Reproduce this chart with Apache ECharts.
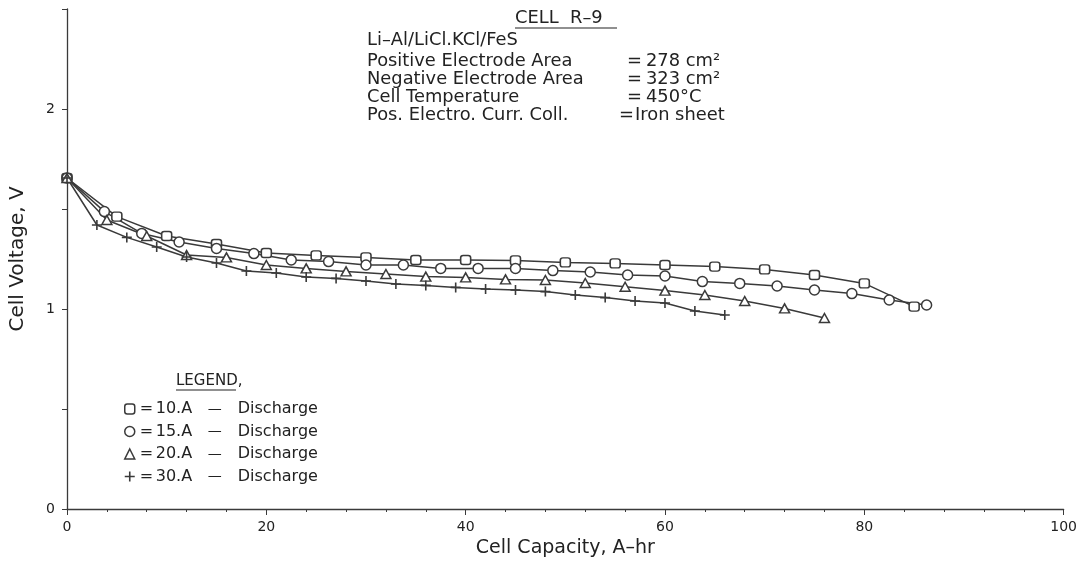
<!DOCTYPE html>
<html>
<head>
<meta charset="utf-8">
<script src="https://cdn.jsdelivr.net/npm/echarts@6/dist/echarts.min.js"></script>
<style>
html,body{margin:0;padding:0;background:#fff;}
#chart{width:1080px;height:566px;}
</style>
</head>
<body>
<div id="chart"></div>
<script>
// ---- data ----
const cap10 = [0, 5, 10, 15, 20, 25, 30, 35, 40, 45, 50, 55, 60, 65, 70, 75, 80, 85];
const volt10 = [1.655, 1.462, 1.365, 1.325, 1.28, 1.268, 1.258, 1.245, 1.245, 1.243, 1.233, 1.228, 1.22, 1.212, 1.198, 1.17, 1.128, 1.012];

const cap15 = [0, 3.75, 7.5, 11.25, 15, 18.75, 22.5, 26.25, 30, 33.75, 37.5, 41.25, 45, 48.75, 52.5, 56.25, 60, 63.75, 67.5, 71.25, 75, 78.75, 82.5, 86.25];
const volt15 = [1.655, 1.487, 1.378, 1.335, 1.303, 1.277, 1.245, 1.237, 1.22, 1.22, 1.203, 1.203, 1.203, 1.192, 1.185, 1.17, 1.165, 1.137, 1.128, 1.115, 1.095, 1.077, 1.045, 1.02];

const cap20 = [0, 4, 8, 12, 16, 20, 24, 28, 32, 36, 40, 44, 48, 52, 56, 60, 64, 68, 72, 76];
const volt20 = [1.655, 1.445, 1.365, 1.27, 1.258, 1.22, 1.203, 1.188, 1.175, 1.162, 1.158, 1.148, 1.145, 1.13, 1.111, 1.092, 1.07, 1.04, 1.003, 0.955];

const cap30 = [0, 3, 6, 9, 12, 15, 18, 21, 24, 27, 30, 33, 36, 39, 42, 45, 48, 51, 54, 57, 60, 63, 66];
const volt30 = [1.655, 1.42, 1.358, 1.31, 1.26, 1.23, 1.19, 1.18, 1.16, 1.153, 1.14, 1.125, 1.118, 1.108, 1.10, 1.095, 1.087, 1.07, 1.057, 1.04, 1.03, 0.99, 0.97];

const seriesNames = ['10.A', '15.A', '20.A', '30.A'];
const xTicks = [0, 20, 40, 60, 80, 100];
const yTickLabels = ['0', '1', '2'];

const titleLines = [
  ['Li\u2013Al/LiCl.KCl/FeS', '', ''],
  ['Positive Electrode Area', '=', '278 cm\u00B2'],
  ['Negative Electrode Area', '=', '323 cm\u00B2'],
  ['Cell Temperature', '=', '450\u00B0C'],
  ['Pos. Electro. Curr. Coll.', '=', 'Iron sheet']
];

// ---- chart ----
const FONT = 'DejaVu Sans';
const INK = '#222';
const LINE = '#3a3a3a';
const plusPath = 'path://M4.2,0H5.8V4.2H10V5.8H5.8V10H4.2V5.8H0V4.2H4.2Z';

function pairs(xs, ys){ return xs.map((x,i)=>[x, ys[i]]); }

const hollow = {color:'#fff', borderColor: LINE, borderWidth: 1.5};
const seriesDefs = [
  {name: seriesNames[0], data: pairs(cap10, volt10), symbol: 'roundRect', symbolSize: [10,9], itemStyle: hollow},
  {name: seriesNames[1], data: pairs(cap15, volt15), symbol: 'circle', symbolSize: [10,10], itemStyle: hollow},
  {name: seriesNames[2], data: pairs(cap20, volt20), symbol: 'triangle', symbolSize: [10,9], itemStyle: hollow},
  {name: seriesNames[3], data: pairs(cap30, volt30), symbol: plusPath, symbolSize: [10,10], itemStyle: {color: LINE, borderWidth: 0}}
];

const series = seriesDefs.map(s => ({
  type: 'line',
  name: s.name,
  data: s.data,
  symbol: s.symbol,
  symbolSize: s.symbolSize,
  showAllSymbol: true,
  smooth: false,
  itemStyle: s.itemStyle,
  lineStyle: {color: LINE, width: 1.5},
  emphasis: {disabled: true},
  z: 3
}));

const TF = '17px "' + FONT + '"';
const SX = 1.05;
const graphic = [];
// title block
graphic.push({type:'text', x: 515, y: 19, scaleX: 1.05, style:{text:'CELL  R\u20139', font: TF, fill: INK, textVerticalAlign:'middle'}});
graphic.push({type:'line', shape:{x1:515, y1:28, x2:617, y2:28}, style:{stroke: INK, lineWidth:1.2}});
const rowY = [41, 62, 80, 98, 116];
titleLines.forEach((r, i) => {
  graphic.push({type:'text', x: 367, y: rowY[i], scaleX: SX, style:{text: r[0], font: TF, fill: INK, textVerticalAlign:'middle'}});
  if (r[1]) graphic.push({type:'text', x: i===4 ? 619 : 627, y: rowY[i], scaleX: SX, style:{text: r[1], font: TF, fill: INK, textVerticalAlign:'middle'}});
  if (r[2]) graphic.push({type:'text', x: i===4 ? 635 : 646, y: rowY[i], scaleX: SX, style:{text: r[2], font: TF, fill: INK, textVerticalAlign:'middle'}});
});
// legend heading
graphic.push({type:'text', x: 176, y: 381, style:{text:'LEGEND,', font:'15px "'+FONT+'"', fill: INK, textVerticalAlign:'middle'}});
graphic.push({type:'line', shape:{x1:176, y1:390, x2:236, y2:390}, style:{stroke: INK, lineWidth:1.2}});

const option = {
  animation: false,
  backgroundColor: '#fff',
  textStyle: {fontFamily: FONT, color: INK},
  grid: {left: 67, right: 16, top: 9, bottom: 57, containLabel: false},
  legend: {
    orient: 'vertical',
    left: 119,
    top: 396,
    itemWidth: 10,
    itemHeight: 10,
    itemGap: 6.5,
    selectedMode: false,
    data: seriesDefs.map(s => ({name: s.name, icon: s.symbol, itemStyle: s.itemStyle})),
    formatter: function(name){ return '{eq|=}{cur|' + name + '}{dash|\u2014}{lab|Discharge}'; },
    textStyle: {
      fontFamily: FONT, fontSize: 16, color: INK,
      rich: {
        eq: {width: 16, fontSize: 16, lineHeight: 18, fontFamily: FONT, color: INK},
        cur: {width: 52, fontSize: 16, lineHeight: 18, fontFamily: FONT, color: INK},
        dash: {width: 30, fontSize: 14, lineHeight: 18, fontFamily: FONT, color: INK},
        lab: {fontSize: 16, lineHeight: 18, fontFamily: FONT, color: INK}
      }
    }
  },
  xAxis: {
    type: 'value', min: 0, max: 100, interval: 20,
    name: 'Cell Capacity, A\u2013hr', nameLocation: 'middle', nameGap: 29,
    nameTextStyle: {fontSize: 19, fontFamily: FONT, color: INK},
    axisLine: {lineStyle: {color: LINE, width: 1.3}},
    axisTick: {show: true, length: 6, lineStyle: {color: LINE}},
    minorTick: {show: true, splitNumber: 5, length: 3, lineStyle: {color: LINE}},
    axisLabel: {fontSize: 14, color: INK, margin: 11, formatter: v => xTicks.includes(v) ? String(v) : ''},
    splitLine: {show: false}
  },
  yAxis: {
    type: 'value', min: 0, max: 2.5, interval: 0.5,
    name: 'Cell Voltage, V', nameLocation: 'middle', nameGap: 39, nameRotate: 90,
    nameTextStyle: {fontSize: 20, fontFamily: FONT, color: INK},
    axisLine: {show: true, lineStyle: {color: LINE, width: 1.3}},
    axisTick: {show: true, length: 5, lineStyle: {color: LINE}},
    axisLabel: {fontSize: 14, color: INK, margin: 12, formatter: v => yTickLabels.includes(String(v)) ? String(v) : ''},
    splitLine: {show: false}
  },
  graphic: graphic,
  series: series
};

const chart = echarts.init(document.getElementById('chart'), null, {renderer: 'canvas'});
chart.setOption(option);
</script>
</body>
</html>
